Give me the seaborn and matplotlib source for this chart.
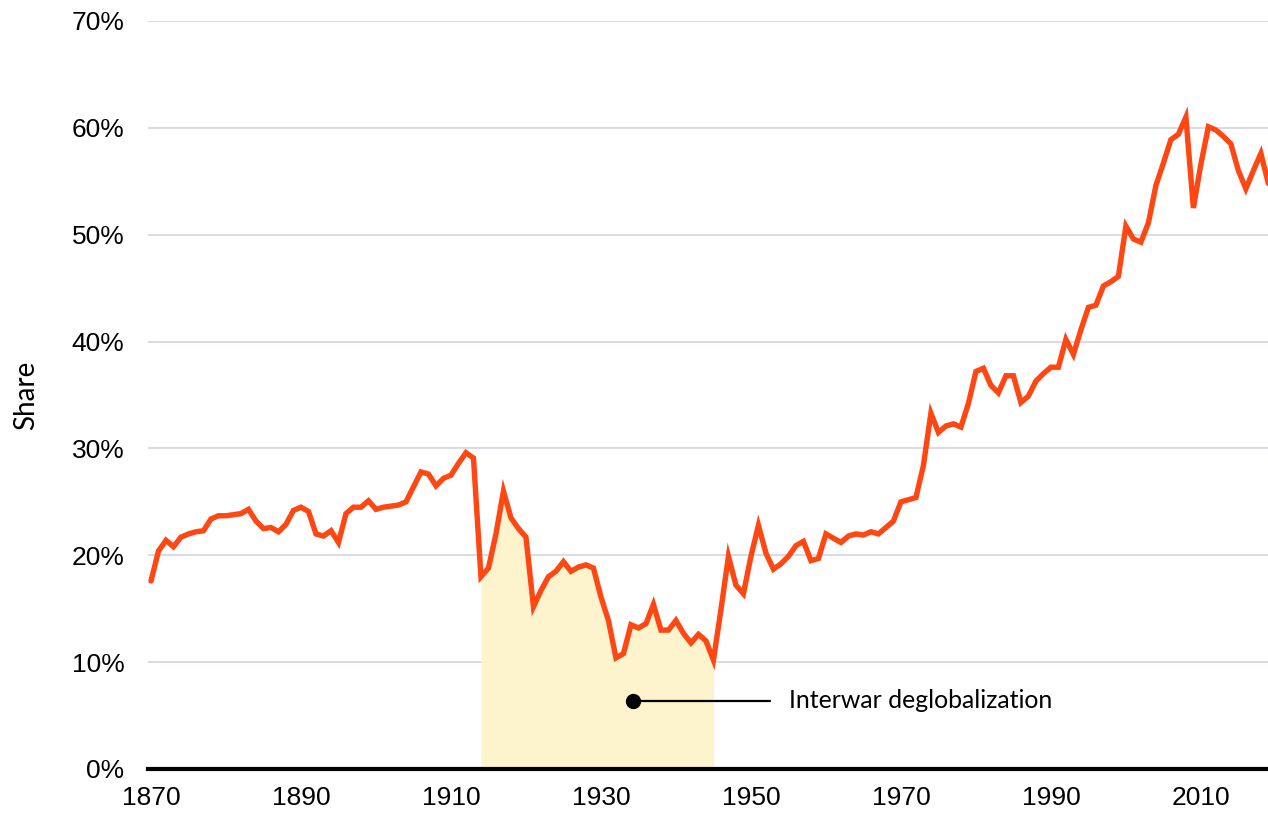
from matplotlib import pyplot as plt
import pandas as pd
import seaborn as sns

# yillar ve pay degerleri (%)
years = list(range(1870, 2020))
share = [
    17.6, 20.4, 21.4, 20.8, 21.7, 22.0, 22.2, 22.3, 23.4, 23.7,
    23.7, 23.8, 23.9, 24.3, 23.2, 22.5, 22.6, 22.2, 22.9, 24.2,
    24.5, 24.1, 22.0, 21.8, 22.3, 21.2, 23.9, 24.5, 24.5, 25.1,
    24.3, 24.5, 24.6, 24.7, 25.0, 26.4, 27.8, 27.6, 26.5, 27.2,
    27.5, 28.6, 29.6, 29.1, 18.0, 18.8, 22.0, 26.0, 23.5, 22.5,
    21.7, 15.2, 16.7, 18.0, 18.5, 19.4, 18.5, 18.9, 19.1, 18.8,
    16.1, 13.9, 10.4, 10.8, 13.5, 13.2, 13.6, 15.4, 13.0, 13.0,
    13.9, 12.7, 11.8, 12.6, 12.0, 10.2, 14.9, 19.9, 17.2, 16.4,
    19.9, 22.8, 20.2, 18.7, 19.2, 19.9, 20.9, 21.3, 19.5, 19.7,
    22.0, 21.6, 21.2, 21.8, 22.0, 21.9, 22.2, 22.0, 22.6, 23.2,
    25.0, 25.2, 25.4, 28.4, 33.3, 31.5, 32.1, 32.3, 32.0, 34.2,
    37.2, 37.5, 35.9, 35.2, 36.8, 36.8, 34.3, 34.9, 36.3, 37.0,
    37.6, 37.6, 40.2, 38.8, 41.1, 43.2, 43.4, 45.2, 45.6, 46.1,
    50.8, 49.6, 49.3, 51.1, 54.6, 56.7, 58.9, 59.4, 61.0, 52.5,
    56.6, 60.1, 59.8, 59.2, 58.5, 56.0, 54.3, 56.0, 57.6, 54.8,
]
x_ticks = [1870, 1890, 1910, 1930, 1950, 1970, 1990, 2010]
y_ticks = [0, 10, 20, 30, 40, 50, 60, 70]
y_tick_labels = ["0%", "10%", "20%", "30%", "40%", "50%", "60%", "70%"]

# golge donemi ve not
shade_start, shade_end = 1914, 1945
note_text = "Interwar deglobalization"
note_x, note_y = 1934.3, 6.4
note_line_end = 1952.5
note_text_x = 1955.1

data = pd.DataFrame({"year": years, "share": share})
shade = data[(data["year"] >= shade_start) & (data["year"] <= shade_end)]

sns.set_style("white")
plt.rcParams["font.family"] = ["Liberation Sans", "DejaVu Sans"]

fig = plt.figure(figsize=(12.68, 8.14), dpi=100)
ax = fig.add_axes([148 / 1268, 45 / 814, 1120 / 1268, 748 / 814])

# grid
for yv in y_ticks[1:]:
    ax.axhline(yv, color="#d8d8e0", linewidth=1.3, zorder=0)

ax.fill_between(shade["year"], 0, shade["share"], color="#fdf3cc", linewidth=0, zorder=1)
sns.lineplot(data=data, x="year", y="share", color="#ff4713", linewidth=3.9,
             ax=ax, zorder=3, solid_joinstyle="miter")

# not
ax.plot([note_x, note_line_end], [note_y, note_y], color="black", linewidth=1.6, zorder=4)
ax.plot([note_x], [note_y], marker="o", markersize=10, color="black", zorder=5)
ax.text(note_text_x, note_y, note_text, fontsize=17.9, family=["Lato", "DejaVu Sans"],
        va="center", ha="left", color="black")

ax.set_xlim(1869.6, 2018.95)
ax.set_ylim(0, 70)
ax.set_xticks(x_ticks)
ax.set_yticks(y_ticks)
ax.set_yticklabels(y_tick_labels)
ax.tick_params(axis="x", length=0, pad=12, labelsize=19)
ax.tick_params(axis="y", length=0, pad=17, labelsize=19, labelcolor="black")
ax.tick_params(axis="x", labelcolor="black")

ax.set_xlabel("")
ax.set_ylabel("Share", fontsize=20, family=["Lato", "DejaVu Sans"], color="black")
ax.yaxis.set_label_coords(-0.097, 0.5)

for side in ["left", "right", "top"]:
    ax.spines[side].set_visible(False)
ax.spines["bottom"].set_color("black")
ax.spines["bottom"].set_linewidth(3)
ax.spines["bottom"].set_zorder(6)

fig.savefig("out.png", dpi=100)
